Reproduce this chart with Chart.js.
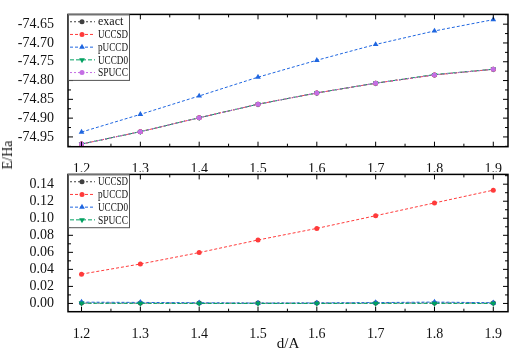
<!DOCTYPE html>
<html lang="en">
<head>
<meta charset="UTF-8">
<title>E vs d</title>
<style>
  body { margin: 0; background: #fff; }
  #wrap { position: relative; width: 512px; height: 353px; }
  canvas { position: absolute; left: 0; }
  #topChart { top: 0; }
  #bottomChart { top: 160px; }
  #ytitle {
    position: absolute; left: 8px; top: 155px;
    transform: translate(-50%, -50%) rotate(-90deg);
    font: 14px "Liberation Serif", serif; white-space: nowrap; color: #111;
  }
</style>
</head>
<body>
<div id="wrap">
  <canvas id="topChart" width="512" height="172"></canvas>
  <canvas id="bottomChart" width="512" height="193"></canvas>
  <div id="ytitle">E/Ha</div>
</div>

<script src="https://cdn.jsdelivr.net/npm/chart.js"></script>
<script>
// bond distance (A)
const distances = [1.2, 1.3, 1.4, 1.5, 1.6, 1.7, 1.8, 1.9];
const xTicks = [1.2, 1.3, 1.4, 1.5, 1.6, 1.7, 1.8, 1.9];
const xMinor = [1.25, 1.35, 1.45, 1.55, 1.65, 1.75, 1.85];

// upper panel: total energies (Ha)
const topLabels = ['exact', 'UCCSD', 'pUCCD', 'UCCD0', 'SPUCC'];
const eExact = [-74.969, -74.936, -74.899, -74.863, -74.833, -74.807, -74.785, -74.770];
const eUCCSD = [-74.969, -74.936, -74.899, -74.863, -74.833, -74.807, -74.785, -74.770];
const ePUCCD = [-74.937, -74.890, -74.841, -74.791, -74.746, -74.704, -74.668, -74.638];
const eUCCD0 = [-74.969, -74.936, -74.899, -74.863, -74.833, -74.807, -74.784, -74.770];
const eSPUCC = [-74.969, -74.936, -74.899, -74.863, -74.833, -74.807, -74.785, -74.770];
const topTicks = [-74.95, -74.90, -74.85, -74.80, -74.75, -74.70, -74.65];
const topMinor = [-74.975, -74.925, -74.875, -74.825, -74.775, -74.725, -74.675, -74.625];

// lower panel: errors against exact (Ha)
const bottomLabels = ['UCCSD', 'pUCCD', 'UCCD0', 'SPUCC'];
const dUCCSD = [0.0005, 0.0004, 0.0004, 0.0004, 0.0004, 0.0005, 0.0006, 0.0005];
const dPUCCD = [0.0344, 0.0463, 0.0597, 0.0745, 0.0881, 0.1030, 0.1180, 0.1330];
const dUCCD0 = [0.0015, 0.0012, 0.0008, 0.0004, 0.0006, 0.0010, 0.0016, 0.0008];
const dSPUCC = [0.0002, 0.0001, 0.0000, 0.0000, 0.0000, 0.0001, 0.0001, 0.0000];
const bottomTicks = [0.00, 0.02, 0.04, 0.06, 0.08, 0.10, 0.12, 0.14];
const bottomMinor = [0.01, 0.03, 0.05, 0.07, 0.09, 0.11, 0.13, 0.15];

// Origin-like plot styles, in plot order
const styles = [
  { color: '#404040', dash: [2, 2], shape: 'circle' },
  { color: '#ff3b3b', dash: [3, 2], shape: 'circle' },
  { color: '#1f66e0', dash: [3, 2], shape: 'triangle' },
  { color: '#00a060', dash: [4, 2], shape: 'triangleDown' },
  { color: '#c46ee4', dash: [2, 2], shape: 'circle' }
];

const SERIF = '"Liberation Serif", "DejaVu Serif", serif';

function makeDataset(label, values, st, i) {
  return {
    label: label,
    data: distances.map((d, k) => ({ x: d, y: values[k] })),
    order: 10 - i, // later plots drawn on top, like Origin
    borderColor: st.color,
    backgroundColor: st.color,
    borderWidth: 1,
    borderDash: st.dash,
    pointStyle: st.shape === 'circle' ? 'circle' : 'triangle',
    pointRotation: st.shape === 'triangleDown' ? 180 : 0,
    pointRadius: st.shape === 'circle' ? 2.5 : 3.3,
    pointBorderWidth: 0,
    shape: st.shape,
    tension: 0
  };
}

function drawMarker(ctx, shape, x, y) {
  ctx.beginPath();
  if (shape === 'circle') {
    ctx.arc(x, y, 2.5, 0, Math.PI * 2);
  } else {
    let rad = shape === 'triangleDown' ? Math.PI : 0;
    const r = 3.3;
    ctx.moveTo(x + Math.sin(rad) * r, y - Math.cos(rad) * r);
    rad += Math.PI * 2 / 3;
    ctx.lineTo(x + Math.sin(rad) * r, y - Math.cos(rad) * r);
    rad += Math.PI * 2 / 3;
    ctx.lineTo(x + Math.sin(rad) * r, y - Math.cos(rad) * r);
    ctx.closePath();
  }
  ctx.fill();
}

// inward ticks, frame and the boxed legend
const originFrame = {
  id: 'originFrame',
  afterDraw(chart, args, opts) {
    const ctx = chart.ctx;
    const a = chart.chartArea;
    const xs = chart.scales.x, ys = chart.scales.y;
    ctx.save();
    ctx.strokeStyle = '#000';
    ctx.lineWidth = 1;
    const tick = (x1, y1, x2, y2) => { ctx.beginPath(); ctx.moveTo(x1, y1); ctx.lineTo(x2, y2); ctx.stroke(); };
    xTicks.forEach(v => { const p = xs.getPixelForValue(v); tick(p, a.bottom, p, a.bottom - 5); tick(p, a.top, p, a.top + 5); });
    xMinor.forEach(v => { const p = xs.getPixelForValue(v); tick(p, a.bottom, p, a.bottom - 3); tick(p, a.top, p, a.top + 3); });
    opts.major.forEach(v => { const p = ys.getPixelForValue(v); tick(a.left, p, a.left + 5, p); tick(a.right, p, a.right - 5, p); });
    opts.minor.forEach(v => {
      if (v < ys.min || v > ys.max) return;
      const p = ys.getPixelForValue(v); tick(a.left, p, a.left + 3, p); tick(a.right, p, a.right - 3, p);
    });
    ctx.lineWidth = 1.5;
    ctx.strokeRect(a.left, a.top, a.right - a.left, a.bottom - a.top);

    // legend
    const sets = chart.data.datasets;
    const rowH = 12.7;
    const bx = a.left, by = a.top, bw = 61, bh = rowH * sets.length + 2;
    ctx.fillStyle = '#fff';
    ctx.fillRect(bx, by, bw, bh);
    ctx.lineWidth = 1;
    ctx.strokeStyle = '#555';
    ctx.strokeRect(bx + 0.5, by + 0.5, bw, bh);
    ctx.font = '12px ' + SERIF;
    ctx.textBaseline = 'middle';
    sets.forEach((ds, i) => {
      const cy = by + 1 + rowH * (i + 0.5);
      ctx.strokeStyle = ds.borderColor;
      ctx.setLineDash(ds.borderDash);
      ctx.beginPath(); ctx.moveTo(bx + 2, cy); ctx.lineTo(bx + 27, cy); ctx.stroke();
      ctx.setLineDash([]);
      ctx.fillStyle = ds.borderColor;
      drawMarker(ctx, ds.shape, bx + 14, cy);
      ctx.fillStyle = '#111';
      ctx.fillText(ds.label, bx + 30, cy + 0.5, 30);
    });
    ctx.restore();
  }
};

function makeOptions(cfg) {
  return {
    responsive: false,
    animation: false,
    layout: { padding: cfg.padding },
    plugins: {
      legend: { display: false },
      tooltip: { enabled: false },
      originFrame: { major: cfg.yTicks, minor: cfg.yMinor }
    },
    scales: {
      x: {
        type: 'linear',
        min: 1.177,
        max: 1.925,
        grid: { display: false },
        border: { display: false },
        afterBuildTicks: s => { s.ticks = xTicks.map(v => ({ value: v })); },
        afterFit: s => { s.height = cfg.xHeight; },
        ticks: {
          autoSkip: false,
          maxRotation: 0,
          padding: 6,
          color: '#111',
          font: { family: SERIF, size: 14 },
          callback: v => v.toFixed(1)
        },
        title: cfg.xTitle
      },
      y: {
        type: 'linear',
        min: cfg.yMin,
        max: cfg.yMax,
        grid: { display: false },
        border: { display: false },
        afterBuildTicks: s => { s.ticks = cfg.yTicks.map(v => ({ value: v })); },
        afterFit: s => { s.width = 68; },
        ticks: {
          autoSkip: false,
          padding: 6,
          color: '#111',
          font: { family: SERIF, size: 14 },
          callback: v => v.toFixed(2)
        }
      }
    }
  };
}

new Chart(document.getElementById('topChart'), {
  type: 'line',
  data: {
    datasets: [
      makeDataset(topLabels[0], eExact, styles[0], 0),
      makeDataset(topLabels[1], eUCCSD, styles[1], 1),
      makeDataset(topLabels[2], ePUCCD, styles[2], 2),
      makeDataset(topLabels[3], eUCCD0, styles[3], 3),
      makeDataset(topLabels[4], eSPUCC, styles[4], 4)
    ]
  },
  options: makeOptions({
    padding: { top: 1.5, right: 2, left: 0, bottom: 0 },
    xHeight: 25.3,
    yMin: -74.976, yMax: -74.624,
    yTicks: topTicks, yMinor: topMinor,
    xTitle: { display: false }
  }),
  plugins: [originFrame]
});

new Chart(document.getElementById('bottomChart'), {
  type: 'line',
  data: {
    datasets: [
      makeDataset(bottomLabels[0], dUCCSD, styles[0], 0),
      makeDataset(bottomLabels[1], dPUCCD, styles[1], 1),
      makeDataset(bottomLabels[2], dUCCD0, styles[2], 2),
      makeDataset(bottomLabels[3], dSPUCC, styles[3], 3)
    ]
  },
  options: makeOptions({
    padding: { top: 6.7, right: 2, left: 0, bottom: 0 },
    xHeight: 41.3,
    yMin: -0.0097, yMax: 0.1515,
    yTicks: bottomTicks, yMinor: bottomMinor,
    xTitle: {
      display: true,
      text: 'd/A',
      color: '#111',
      font: { family: SERIF, size: 15 },
      padding: { top: 0, bottom: 0 }
    }
  }),
  plugins: [originFrame]
});
</script>
</body>
</html>
